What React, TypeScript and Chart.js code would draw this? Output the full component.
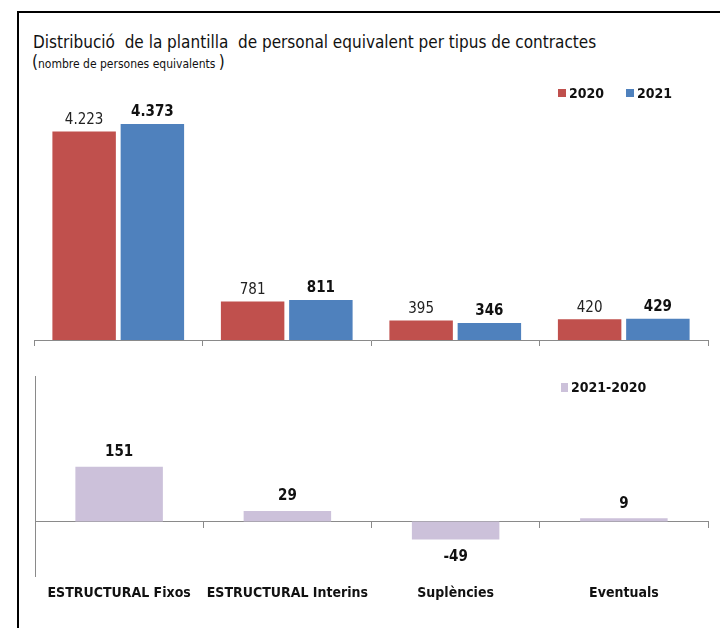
import React, { useEffect, useRef } from "react";
import { Chart, registerables } from "chart.js";

Chart.register(...registerables);

const categories = ["ESTRUCTURAL Fixos", "ESTRUCTURAL Interins", "Suplències", "Eventuals"];
const values2020 = [4223, 781, 395, 420];
const values2021 = [4373, 811, 346, 429];
const diff2021_2020 = [151, 29, -49, 9];
const topAxisMax = 5000;
const bottomAxisMin = -150;
const bottomAxisMax = 400;

const FONT = "'DejaVu Sans Condensed', 'DejaVu Sans', sans-serif";
const RED = "#C0504D";
const BLUE = "#4F81BD";
const LAV = "#CCC1DA";
const AXIS = "#8a8a8a";

const fmt = (v: number) => {
  const s = Math.abs(v).toString().replace(/\B(?=(\d{3})+(?!\d))/g, ".");
  return (v < 0 ? "-" : "") + s;
};

const valueLabels = {
  id: "valueLabels",
  afterDatasetsDraw(chart: any, _args: any, opts: any) {
    const ctx = chart.ctx;
    chart.data.datasets.forEach((ds: any, di: number) => {
      const meta = chart.getDatasetMeta(di);
      const st = opts.styles[di];
      meta.data.forEach((el: any, i: number) => {
        const v = ds.data[i];
        ctx.save();
        ctx.font = st.font;
        ctx.fillStyle = st.color;
        ctx.textAlign = "center";
        if (v >= 0) {
          ctx.textBaseline = "bottom";
          ctx.fillText(fmt(v), el.x, el.y - st.offset);
        } else {
          ctx.textBaseline = "top";
          ctx.fillText(fmt(v), el.x, el.y + st.negOffset);
        }
        ctx.restore();
      });
    });
  },
};

function LegendItem({ color, text, left, top, w = 8, h = 8 }: any) {
  return (
    <div style={{ position: "absolute", left, top, display: "flex", alignItems: "center", whiteSpace: "nowrap" }}>
      <span style={{ display: "inline-block", width: w, height: h, background: color, marginRight: 3 }} />
      <span style={{ fontFamily: FONT, fontWeight: "bold", fontSize: 14, color: "#111", lineHeight: "16px" }}>{text}</span>
    </div>
  );
}

export default function App() {
  const topRef = useRef<HTMLCanvasElement>(null);
  const botRef = useRef<HTMLCanvasElement>(null);

  useEffect(() => {
    const top = new Chart(topRef.current!, {
      type: "bar",
      data: {
        labels: categories,
        datasets: [
          { label: "2020", data: values2020, backgroundColor: RED, categoryPercentage: 0.81, barPercentage: 0.93 },
          { label: "2021", data: values2021, backgroundColor: BLUE, categoryPercentage: 0.81, barPercentage: 0.93 },
        ],
      },
      options: {
        animation: false,
        responsive: false,
        maintainAspectRatio: false,
        layout: { padding: { top: 93, left: 34, right: 12, bottom: 14 } },
        plugins: {
          legend: { display: false },
          tooltip: { enabled: false },
          valueLabels: {
            styles: [
              { font: `15px ${FONT}`, color: "#222", offset: 4, negOffset: 4 },
              { font: `bold 15px ${FONT}`, color: "#111", offset: 4, negOffset: 4 },
            ],
          },
        } as any,
        scales: {
          x: {
            offset: true,
            ticks: { display: false },
            grid: { display: true, drawOnChartArea: false, drawTicks: true, tickLength: 6, color: AXIS, offset: true },
            border: { display: true, color: AXIS, width: 1 },
          },
          y: { display: false, min: 0, max: topAxisMax },
        },
      },
      plugins: [valueLabels],
    });

    const bot = new Chart(botRef.current!, {
      type: "bar",
      data: {
        labels: categories,
        datasets: [
          { label: "2021-2020", data: diff2021_2020, backgroundColor: LAV, categoryPercentage: 1, barPercentage: 0.52 },
        ],
      },
      options: {
        animation: false,
        responsive: false,
        maintainAspectRatio: false,
        layout: { padding: { top: 16, left: 35, right: 12, bottom: 17 } },
        plugins: {
          legend: { display: false },
          tooltip: { enabled: false },
          valueLabels: {
            styles: [{ font: `bold 15px ${FONT}`, color: "#111", offset: 7, negOffset: 10 }],
          },
        } as any,
        scales: {
          x: {
            offset: true,
            ticks: { display: true, color: "#111", padding: 9, font: { family: FONT, size: 14, weight: "bold" }, maxRotation: 0, autoSkip: false },
            grid: { display: false, drawTicks: false },
            border: { display: false },
          },
          x2: {
            type: "category",
            position: { y: 0 } as any,
            offset: true,
            ticks: { display: false },
            grid: { display: true, drawOnChartArea: false, drawTicks: true, tickLength: 6, color: AXIS, offset: true },
            border: { display: true, color: AXIS, width: 1 },
          },
          y: {
            min: bottomAxisMin,
            max: bottomAxisMax,
            ticks: { display: false },
            grid: { display: false, drawTicks: false },
            border: { display: true, color: AXIS, width: 1 },
          },
        } as any,
      },
      plugins: [valueLabels],
    });

    return () => {
      top.destroy();
      bot.destroy();
    };
  }, []);

  return (
    <div style={{ position: "fixed", left: 0, top: 0, width: 720, height: 628, background: "#fff", overflow: "hidden" }}>
      <div style={{ position: "absolute", left: 17, top: 11, width: 720, height: 640, borderTop: "2px solid #000", borderLeft: "2px solid #000" }} />
      <div style={{ position: "absolute", left: 33, top: 31, fontFamily: FONT, fontSize: 17, color: "#111", whiteSpace: "pre", lineHeight: "22px" }}>
        {"Distribució  de la plantilla  de personal equivalent per tipus de contractes"}
      </div>
      <div style={{ position: "absolute", left: 32, top: 51, fontFamily: FONT, color: "#111", whiteSpace: "pre", lineHeight: "22px" }}>
        <span style={{ fontSize: 17 }}>(</span>
        <span style={{ fontSize: 12 }}>{"nombre de persones equivalents "}</span>
        <span style={{ fontSize: 17 }}>)</span>
      </div>
      <canvas ref={topRef} width={720} height={360} style={{ position: "absolute", left: 0, top: 0, width: 720, height: 360 }} />
      <canvas ref={botRef} width={720} height={268} style={{ position: "absolute", left: 0, top: 360, width: 720, height: 268 }} />
      <LegendItem color={RED} text="2020" left={558} top={85} />
      <LegendItem color={BLUE} text="2021" left={626} top={85} />
      <LegendItem color={LAV} text="2021-2020" left={561} top={379} w={7} h={9} />
    </div>
  );
}
